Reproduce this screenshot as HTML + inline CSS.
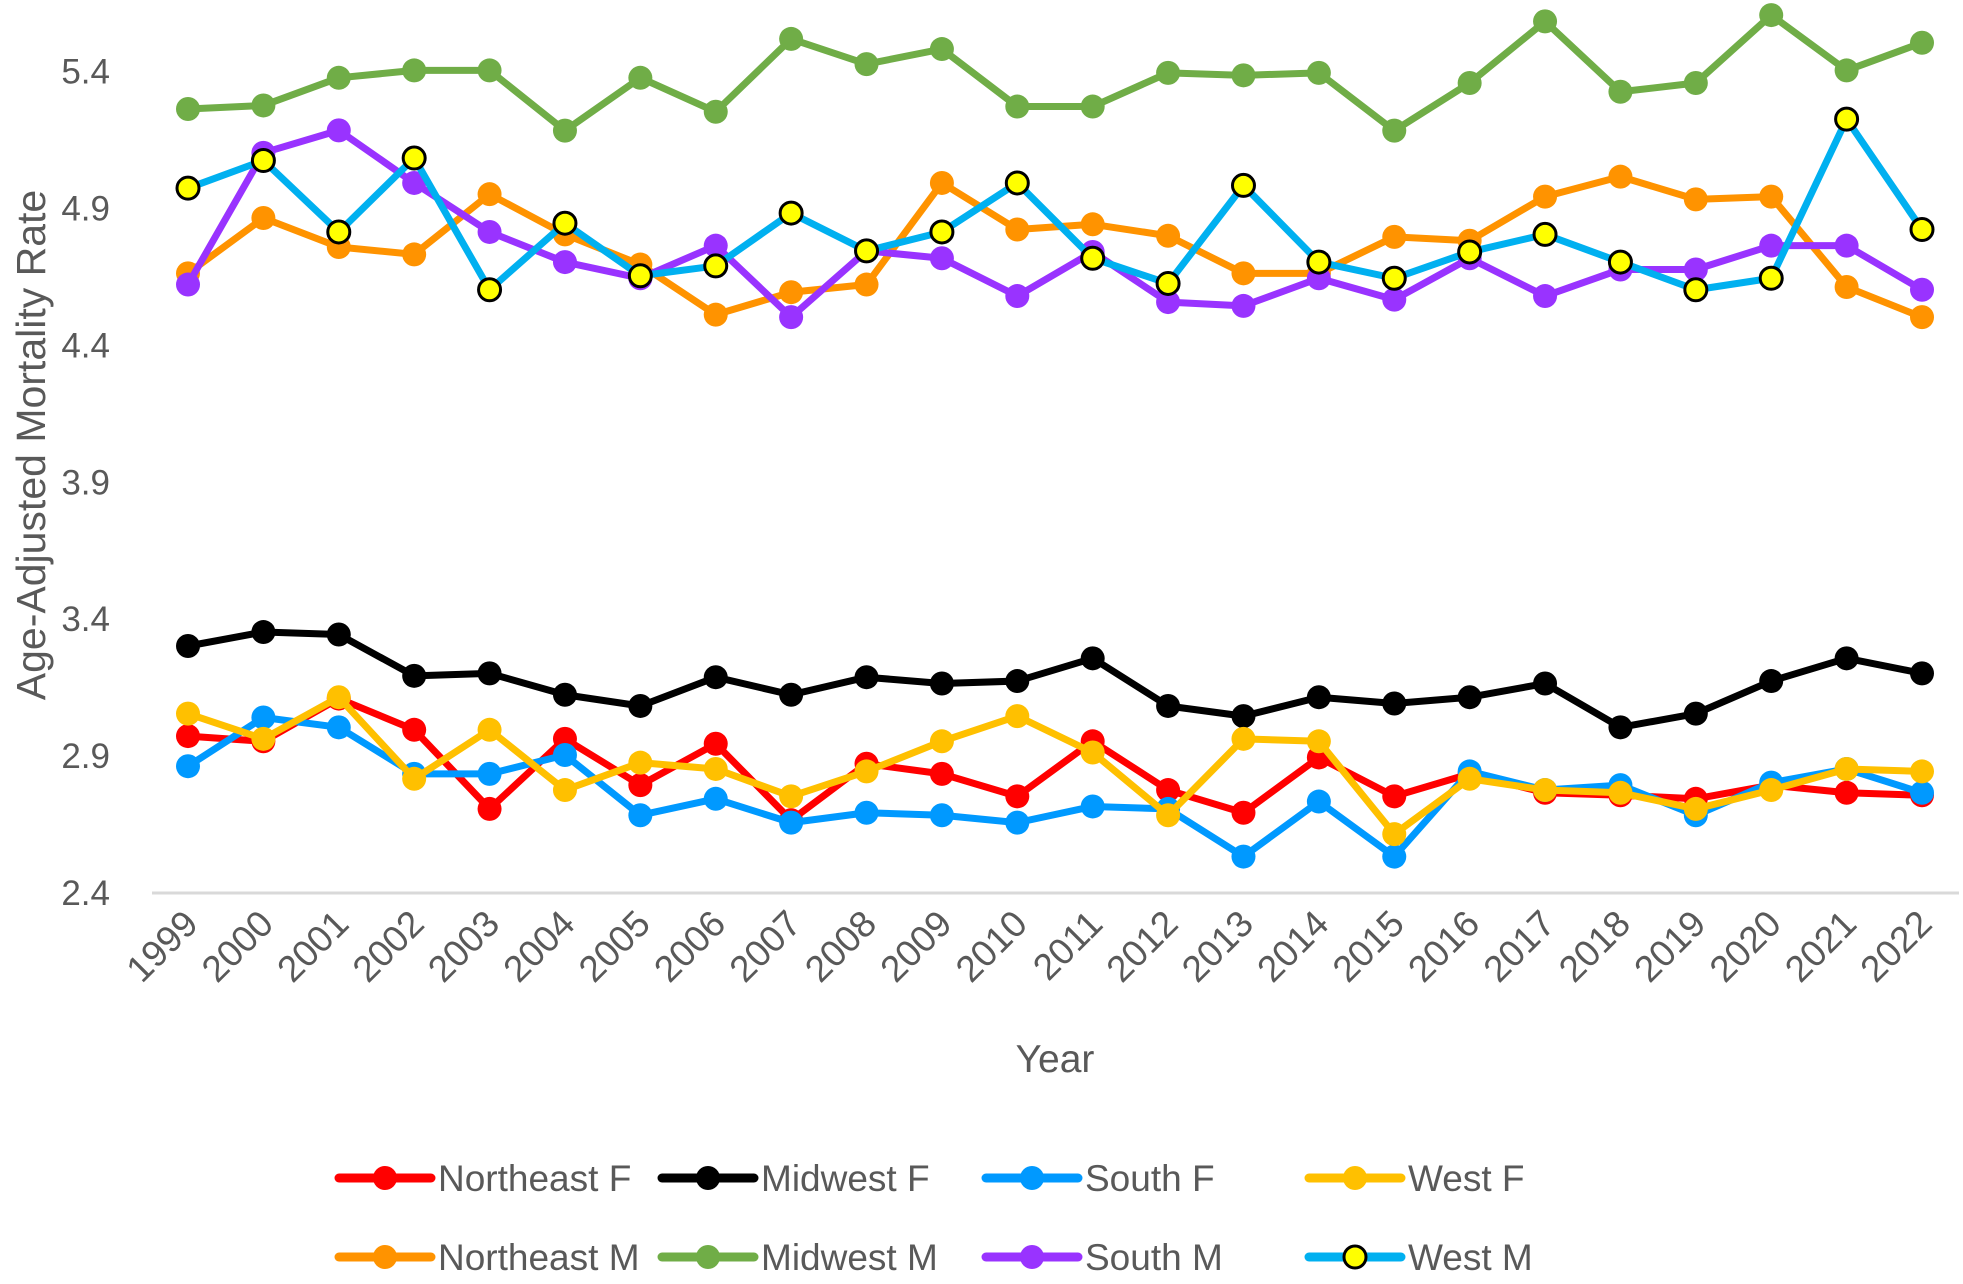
<!DOCTYPE html>
<html><head><meta charset="utf-8"><style>
html,body{margin:0;padding:0;background:#fff;}
svg{display:block;font-family:"Liberation Sans",sans-serif;}
</style></head><body>
<svg id="chart" width="1963" height="1284" viewBox="0 0 1963 1284" xmlns="http://www.w3.org/2000/svg">
<g id="grid"></g>
<g id="ylabels"></g>
<g id="xlabels"></g>
<g id="series"></g>
<g id="legend"></g>
<text x="0" y="0" transform="translate(45,445) rotate(-90)" text-anchor="middle" font-size="41" fill="#595959">Age-Adjusted Mortality Rate</text>
<text x="1055" y="1072" text-anchor="middle" font-size="39" fill="#595959">Year</text>
</svg>
<script>
const years = [1999,2000,2001,2002,2003,2004,2005,2006,2007,2008,2009,2010,2011,2012,2013,2014,2015,2016,2017,2018,2019,2020,2021,2022];
const yTicks = [2.4,2.9,3.4,3.9,4.4,4.9,5.4];
const yTickLabels = ["2.4","2.9","3.4","3.9","4.4","4.9","5.4"];
const northeastF = [2.973,2.954,3.110,2.996,2.707,2.963,2.794,2.945,2.666,2.872,2.835,2.753,2.954,2.776,2.693,2.895,2.753,2.835,2.766,2.757,2.744,2.794,2.766,2.757];
const midwestF = [3.302,3.353,3.344,3.193,3.202,3.124,3.083,3.188,3.124,3.188,3.165,3.174,3.257,3.083,3.046,3.115,3.092,3.115,3.165,3.005,3.055,3.174,3.257,3.202];
const southF = [2.863,3.041,3.005,2.835,2.835,2.904,2.684,2.744,2.657,2.693,2.684,2.657,2.716,2.707,2.533,2.734,2.533,2.844,2.776,2.794,2.684,2.803,2.853,2.766];
const westF = [3.055,2.963,3.115,2.817,2.996,2.776,2.876,2.853,2.753,2.844,2.954,3.046,2.913,2.684,2.963,2.954,2.615,2.817,2.776,2.766,2.707,2.776,2.853,2.844];
const northeastM = [4.663,4.865,4.759,4.732,4.952,4.805,4.695,4.512,4.594,4.622,4.993,4.823,4.842,4.800,4.663,4.663,4.796,4.782,4.943,5.016,4.933,4.943,4.613,4.503];
const midwestM = [5.263,5.276,5.377,5.404,5.404,5.184,5.377,5.253,5.519,5.427,5.482,5.272,5.272,5.395,5.386,5.395,5.184,5.358,5.583,5.326,5.358,5.606,5.404,5.505];
const southM = [4.622,5.103,5.185,4.993,4.814,4.704,4.645,4.764,4.503,4.745,4.718,4.580,4.741,4.558,4.544,4.645,4.567,4.718,4.580,4.677,4.677,4.764,4.764,4.603];
const westM = [4.974,5.075,4.814,5.084,4.603,4.846,4.654,4.690,4.883,4.745,4.814,4.993,4.718,4.626,4.984,4.704,4.645,4.741,4.805,4.704,4.603,4.645,5.226,4.823];

const NS='http://www.w3.org/2000/svg';
function mk(tag, attrs, parent){const e=document.createElementNS(NS,tag);for(const k in attrs)e.setAttribute(k,attrs[k]);parent.appendChild(e);return e;}
const X0=188, X1=1922, Y0=893, Y1=71.5, vMin=2.4, vMax=5.4;
function xScale(i){return X0+(X1-X0)*i/(years.length-1);}
function yScale(v){return Y0-(v-vMin)/(vMax-vMin)*(Y0-Y1);}

const grid=document.getElementById('grid');
const gl=mk('line',{x1:152,x2:1959,y1:yScale(vMin),y2:yScale(vMin),stroke:'#d9d9d9','stroke-width':3},grid);



const yl=document.getElementById('ylabels');
yTicks.forEach((t,i)=>{
  const e=mk('text',{x:110,y:yScale(t)+12,'text-anchor':'end','font-size':35,fill:'#595959'},yl);
  e.textContent=yTickLabels[i];
  
  
});
const xl=document.getElementById('xlabels');
years.forEach((y,i)=>{
  const x=xScale(i)+12, yy=926;
  const e=mk('text',{x:x,y:yy,'text-anchor':'end','font-size':37,fill:'#595959',transform:`rotate(-45 ${x} ${yy})`},xl);
  e.textContent=String(y);
  
  
});

const seriesList=[
 {name:'Northeast F',data:northeastF,line:'#FF0000',fill:'#FF0000',stroke:null},
 {name:'Midwest F',data:midwestF,line:'#000000',fill:'#000000',stroke:null},
 {name:'South F',data:southF,line:'#0099FF',fill:'#0099FF',stroke:null},
 {name:'West F',data:westF,line:'#FFC000',fill:'#FFC000',stroke:null},
 {name:'Northeast M',data:northeastM,line:'#FF9300',fill:'#FF9300',stroke:null},
 {name:'Midwest M',data:midwestM,line:'#70AD47',fill:'#70AD47',stroke:null},
 {name:'South M',data:southM,line:'#9933FF',fill:'#9933FF',stroke:null},
 {name:'West M',data:westM,line:'#00B0F0',fill:'#FFFF00',stroke:'#000000'}
];
const sg=document.getElementById('series');
seriesList.forEach(s=>{
  const slug=s.name.toLowerCase().replace(/\s+/g,'-');
  const g=mk('g',{},sg);
  
  
  const pts=s.data.map((v,i)=>xScale(i)+','+yScale(v)).join(' ');
  const pl=mk('polyline',{points:pts,fill:'none',stroke:s.line,'stroke-width':7,'stroke-linejoin':'round'},g);
  
  
  s.data.forEach((v,i)=>{
    const a={cx:xScale(i),cy:yScale(v),r:s.stroke?11:12,fill:s.fill};
    if(s.stroke){a.stroke=s.stroke;a['stroke-width']=3;}
    const c=mk('circle',a,g);
    
    
  });
});

const lg=document.getElementById('legend');
const cols=[337,660,984,1307], rows=[1178,1257];
seriesList.forEach((s,i)=>{
  const x=cols[i%4], y=rows[Math.floor(i/4)];
  const slug=s.name.toLowerCase().replace(/\s+/g,'-');
  const g=mk('g',{},lg);
  
  
  mk('line',{x1:x+2,x2:x+94,y1:y,y2:y,stroke:s.line,'stroke-width':9,'stroke-linecap':'round'},g);
  const a={cx:x+48,cy:y,r:s.stroke?11:12,fill:s.fill};
  if(s.stroke){a.stroke=s.stroke;a['stroke-width']=3;}
  mk('circle',a,g);
  const t=mk('text',{x:x+101,y:y+13,'font-size':37,fill:'#595959'},g);
  t.textContent=s.name;
});
</script>
</body></html>
